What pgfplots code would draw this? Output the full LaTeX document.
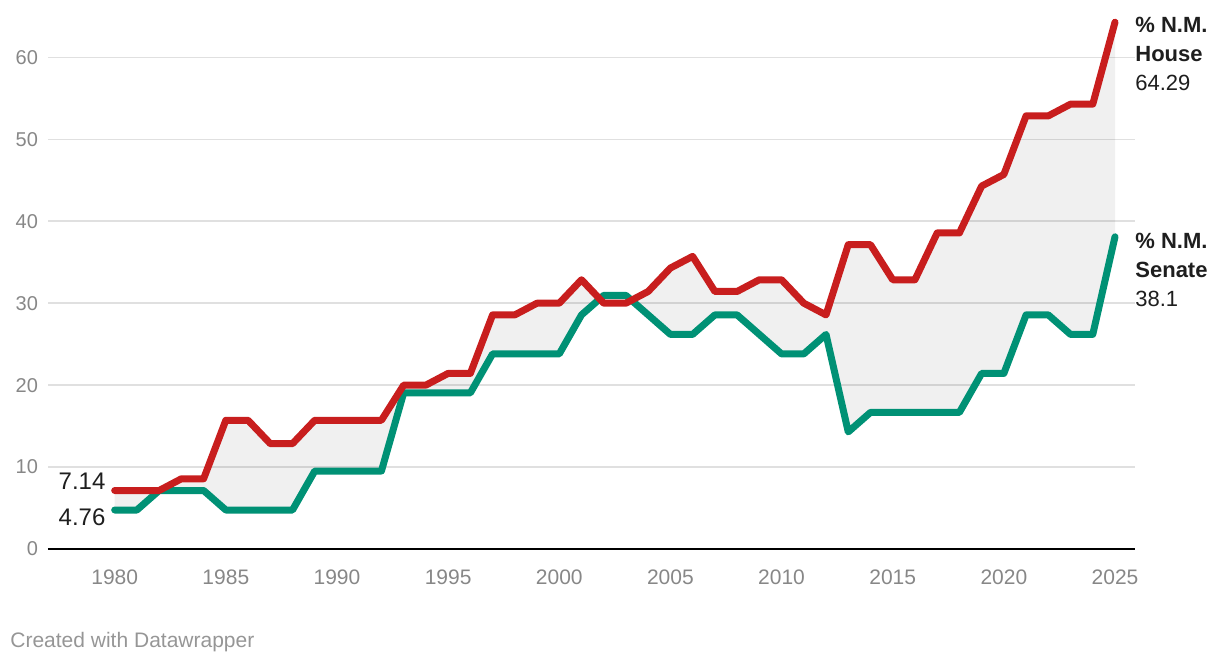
\documentclass[border=0pt]{standalone}
\usepackage{fontspec}
\setmainfont{Liberation Sans}
\usepackage{pgfplots}
\usepackage{pgfplotstable}
\pgfplotsset{compat=1.18}
\usepgfplotslibrary{fillbetween}

\definecolor{houseRed}{RGB}{200,30,30}
\definecolor{senateGreen}{RGB}{0,145,117}
\definecolor{gridGray}{RGB}{224,224,224}
\definecolor{tickGray}{RGB}{135,135,135}
\definecolor{textDark}{RGB}{30,30,30}

% share of seats, % N.M. House (of 70) and Senate (of 42)
\pgfplotstableread{
year house senate
1980 7.14 4.76
1981 7.14 4.76
1982 7.14 7.14
1983 8.57 7.14
1984 8.57 7.14
1985 15.71 4.76
1986 15.71 4.76
1987 12.86 4.76
1988 12.86 4.76
1989 15.71 9.52
1990 15.71 9.52
1991 15.71 9.52
1992 15.71 9.52
1993 20.00 19.05
1994 20.00 19.05
1995 21.43 19.05
1996 21.43 19.05
1997 28.57 23.81
1998 28.57 23.81
1999 30.00 23.81
2000 30.00 23.81
2001 32.86 28.57
2002 30.00 30.95
2003 30.00 30.95
2004 31.43 28.57
2005 34.29 26.19
2006 35.71 26.19
2007 31.43 28.57
2008 31.43 28.57
2009 32.86 26.19
2010 32.86 23.81
2011 30.00 23.81
2012 28.57 26.19
2013 37.14 14.29
2014 37.14 16.67
2015 32.86 16.67
2016 32.86 16.67
2017 38.57 16.67
2018 38.57 16.67
2019 44.29 21.43
2020 45.71 21.43
2021 52.86 28.57
2022 52.86 28.57
2023 54.29 26.19
2024 54.29 26.19
2025 64.29 38.10
}\nmdata

\begin{document}
\begin{tikzpicture}
% 1 px of the reference = 0.5pt
\begin{axis}[
  at={(0,0)}, anchor=south west,
  scale only axis,
  width=543.5pt, height=274.5pt,
  xmin=1977, xmax=2025.9,
  ymin=0, ymax=67,
  clip=false,
  separate axis lines,
  axis x line*=bottom, axis y line*=left,
  x axis line style={draw=black, line width=1pt},
  y axis line style={draw=none},
  xtick={1980,1985,...,2025},
  ytick={0,10,...,60},
  major tick length=0pt,
  ymajorgrids,
  grid style={gridGray, line width=0.75pt},
  /pgf/number format/1000 sep={},
  /pgf/number format/assume math mode=true,
  xticklabel style={tickGray, font=\fontsize{10.5}{12}\selectfont, yshift=-7pt},
  yticklabel style={tickGray, font=\fontsize{10}{12}\selectfont, xshift=-1.5pt},
]
\addplot[name path=senate, senateGreen, line width=3.5pt, line join=round, line cap=round]
  table[x=year, y=senate] {\nmdata};
\addplot[name path=house, houseRed, line width=3.5pt, line join=round, line cap=round]
  table[x=year, y=house] {\nmdata};
\addplot[fill=black, fill opacity=0.06, draw=none] fill between[of=house and senate];

\node[anchor=west, align=left, inner sep=0pt, text=textDark,
  font=\fontsize{11}{14.5}\selectfont] at (axis cs:2025.9,60.4)
  {\textbf{\% N.M.}\\\textbf{House}\\64.29};
\node[anchor=west, align=left, inner sep=0pt, text=textDark,
  font=\fontsize{11}{14.5}\selectfont] at (axis cs:2025.9,34.0)
  {\textbf{\% N.M.}\\\textbf{Senate}\\38.1};
\node[anchor=east, inner sep=0pt, text=textDark, font=\fontsize{12}{14}\selectfont]
  at (axis cs:1979.6,8.3) {7.14};
\node[anchor=east, inner sep=0pt, text=textDark, font=\fontsize{12}{14}\selectfont]
  at (axis cs:1979.6,3.9) {4.76};
\end{axis}
\node[anchor=west, inner sep=0pt, text={rgb,255:red,150;green,150;blue,150},
  font=\fontsize{10.5}{12}\selectfont] at (-19pt,-46.5pt) {Created with Datawrapper};
\path (-24pt,-58.5pt) rectangle (586pt,274.5pt);
\end{tikzpicture}
\end{document}
